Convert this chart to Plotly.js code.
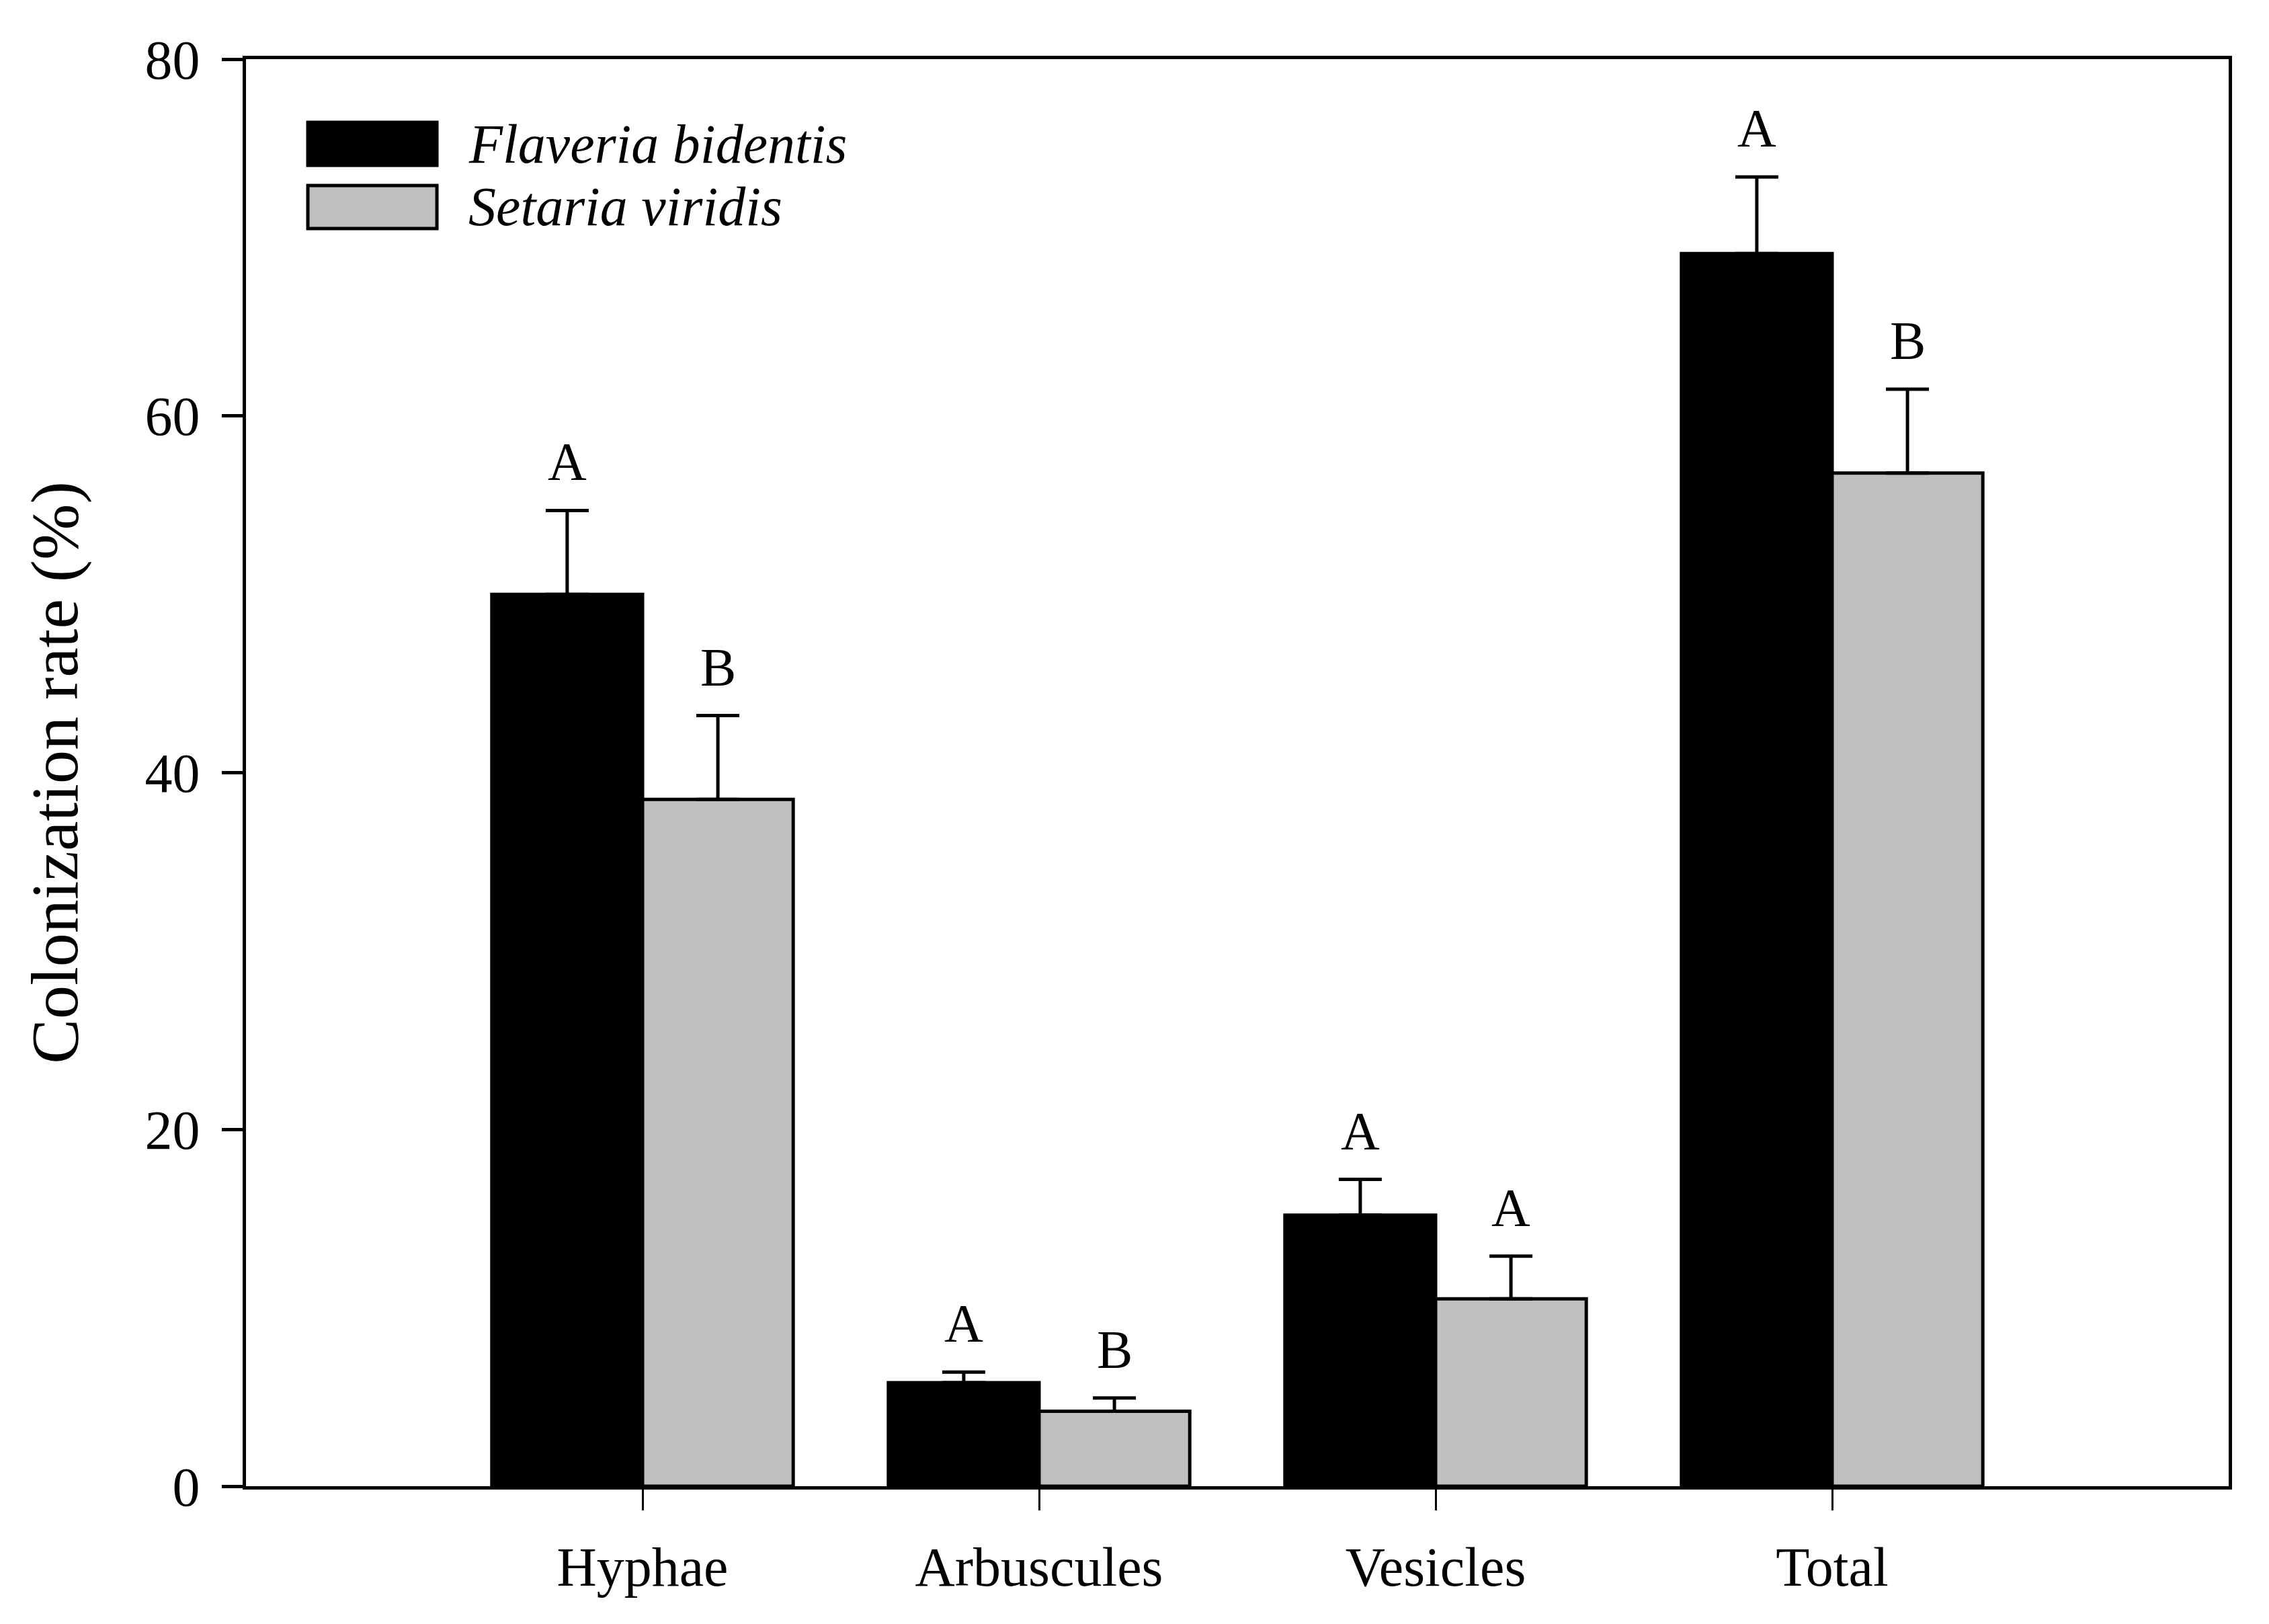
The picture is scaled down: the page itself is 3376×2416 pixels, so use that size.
<!DOCTYPE html>
<html>
<head>
<meta charset="utf-8">
<script src="https://cdn.plot.ly/plotly-3.0.1.min.js"></script>
<style>
  body { margin: 0; background: #fff; }
  #chart { width: 3376px; height: 2416px; }
</style>
</head>
<body>
<div id="chart"></div>
<script>
// Colonization rate by structure, two host species
const categories = ['Hyphae', 'Arbuscules', 'Vesicles', 'Total'];
const flaveria = [50.0, 5.8, 15.2, 69.1];
const flaveriaErr = [4.7, 0.6, 2.0, 4.3];
const flaveriaLetters = ['A', 'A', 'A', 'A'];
const setaria = [38.5, 4.2, 10.5, 56.8];
const setariaErr = [4.7, 0.75, 2.4, 4.7];
const setariaLetters = ['B', 'B', 'A', 'B'];
const seriesNames = ['Flaveria bidentis', 'Setaria viridis'];

const FONT = 'Liberation Serif, Times New Roman, serif';
const pos = categories.map((c, i) => i);
const BARGAP = 0.24;
const half = (1 - BARGAP) / 4; // offset of each bar centre from group centre

function barTrace(name, vals, errs, color) {
    return {
        type: 'bar',
        name: name,
        x: pos,
        y: vals,
        marker: { color: color, line: { color: '#000', width: 5 } },
        error_y: {
            type: 'data', symmetric: false, array: errs,
            arrayminus: errs.map(() => 0),
            color: '#000', thickness: 5, width: 32
        },
        showlegend: false,
        hoverinfo: 'skip'
    };
}

const data = [
    barTrace(seriesNames[0], flaveria, flaveriaErr, '#000000'),
    barTrace(seriesNames[1], setaria, setariaErr, '#c0c0c0')
];

// significance letters above error bars
const annotations = [];
function addLetters(vals, errs, letters, shift) {
    vals.forEach((v, i) => {
        annotations.push({
            x: i + shift, y: v + errs[i], xref: 'x', yref: 'y',
            text: letters[i], showarrow: false,
            yanchor: 'bottom', yshift: 26,
            font: { family: FONT, size: 80, color: '#000' }
        });
    });
}
addLetters(flaveria, flaveriaErr, flaveriaLetters, -half);
addLetters(setaria, setariaErr, setariaLetters, half);

// hand-drawn legend
const legendRows = [
    { name: seriesNames[0], color: '#000000', y0: 0.9256, y1: 0.9557 },
    { name: seriesNames[1], color: '#c0c0c0', y0: 0.8813, y1: 0.9115 }
];
const shapes = legendRows.map(r => ({
    type: 'rect', xref: 'paper', yref: 'paper',
    x0: 0.0312, x1: 0.0963, y0: r.y0, y1: r.y1,
    fillcolor: r.color, line: { color: '#000', width: 5 }
}));
legendRows.forEach(r => {
    annotations.push({
        xref: 'paper', yref: 'paper', x: 0.1115, y: (r.y0 + r.y1) / 2,
        xanchor: 'left', yanchor: 'middle', showarrow: false,
        text: '<i>' + r.name + '</i>',
        font: { family: FONT, size: 82, color: '#000' }
    });
});

const layout = {
    width: 3376,
    height: 2416,
    margin: { l: 366, r: 60, t: 88, b: 205 },
    paper_bgcolor: '#fff',
    plot_bgcolor: '#fff',
    font: { family: FONT, size: 80, color: '#000' },
    barmode: 'group',
    bargap: BARGAP,
    bargroupgap: 0,
    xaxis: {
        range: [-1, 4],
        tickvals: pos,
        ticktext: categories,
        showgrid: false, zeroline: false,
        showline: true, linecolor: '#000', linewidth: 5, mirror: true,
        ticks: 'outside', ticklen: 31, tickwidth: 3, tickcolor: '#000',
        ticklabelstandoff: 14,
        tickfont: { family: FONT, size: 82, color: '#000' }
    },
    yaxis: {
        range: [0, 80],
        tickvals: [0, 20, 40, 60, 80],
        showgrid: false, zeroline: false,
        showline: true, linecolor: '#000', linewidth: 5, mirror: true,
        ticks: 'outside', ticklen: 31, tickwidth: 5, tickcolor: '#000',
        ticklabelstandoff: 16,
        tickfont: { family: FONT, size: 82, color: '#000' },
        title: { text: 'Colonization rate (%)', standoff: 68,
                 font: { family: FONT, size: 100, color: '#000' } }
    },
    shapes: shapes,
    annotations: annotations
};

Plotly.newPlot('chart', data, layout, { staticPlot: true });
</script>
</body>
</html>
